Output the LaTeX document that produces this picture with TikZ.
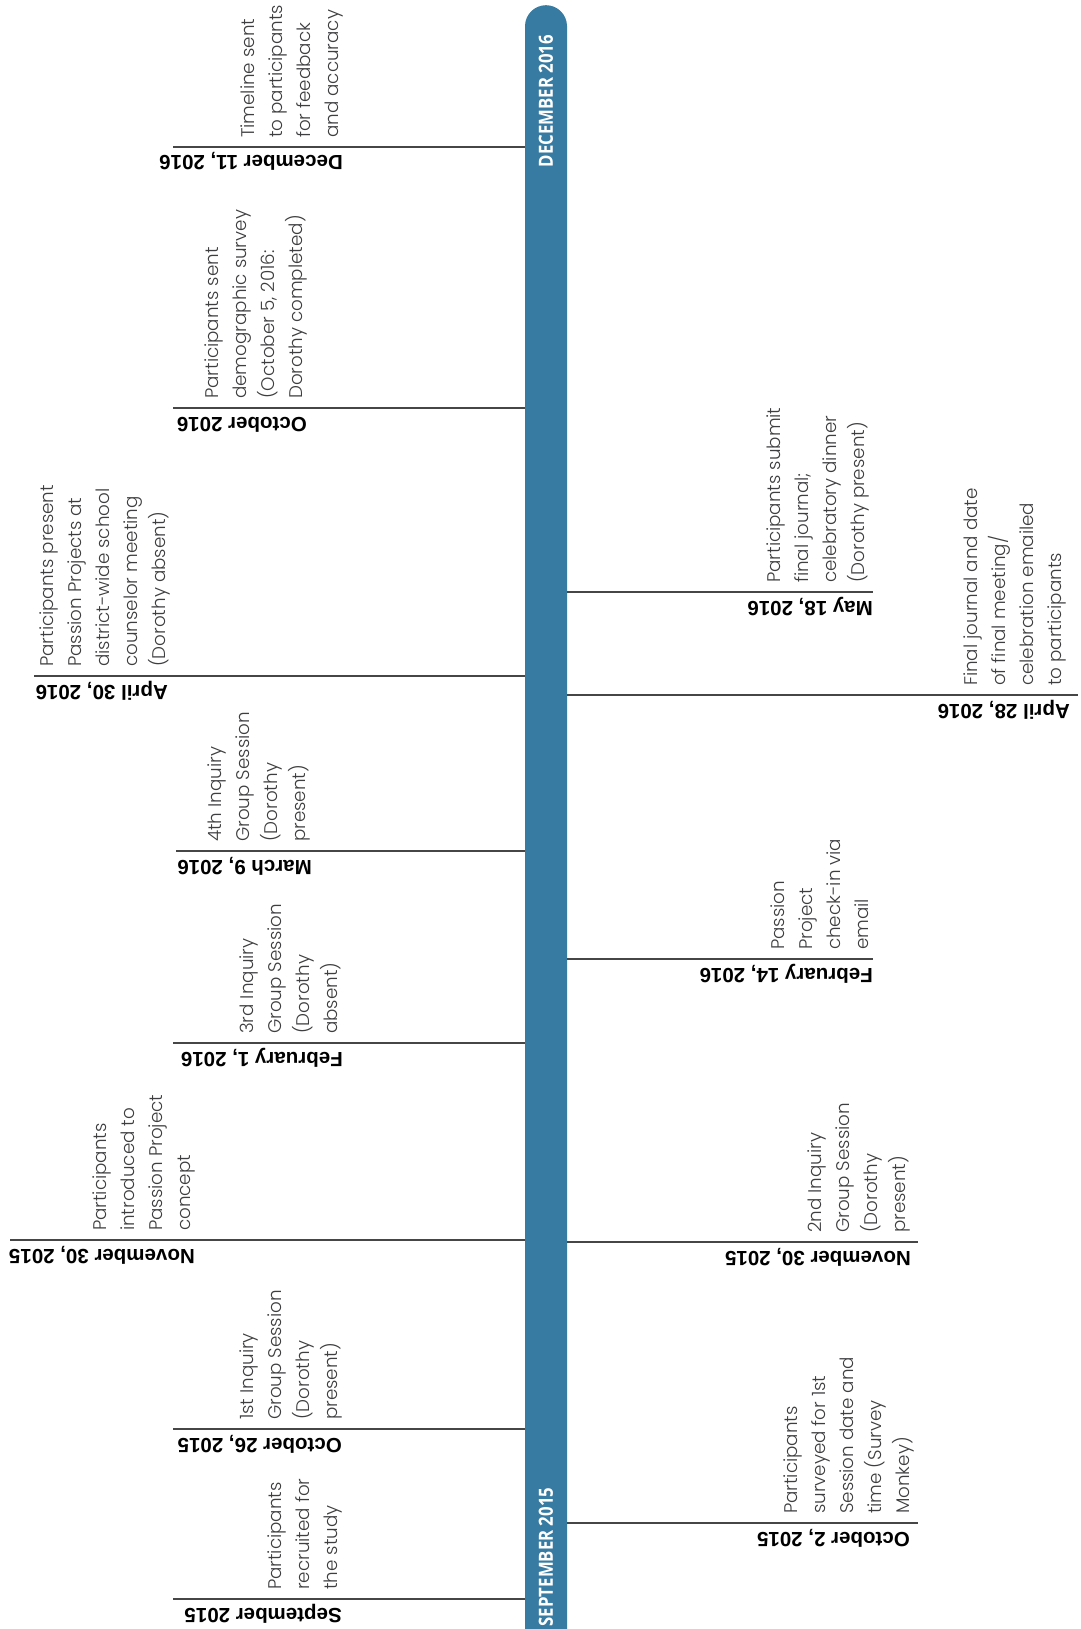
\documentclass[tikz,border=0pt]{standalone}
\usepackage{fontspec}
\setmainfont{Liberation Sans}
\IfFontExistsTF{Poppins Light}
  {\newfontfamily\bodyfont{Poppins Light}}
  {\newfontfamily\bodyfont{Poppins}}
\newfontfamily\barfont{Open Sans}[FakeStretch=0.86]

\definecolor{barblue}{RGB}{55,123,163}
\definecolor{bodygray}{RGB}{62,62,64}
\definecolor{rulegray}{RGB}{70,70,70}

\tikzset{
  timebar/.style={fill=barblue, draw=none, rounded corners=21pt,
    minimum width=42pt, minimum height=1800pt, anchor=north, inner sep=0pt},
  barlabel/.style={rotate=90, text=white, inner sep=0pt,
    font=\barfont\bfseries\fontsize{19.5}{20}\selectfont},
  tick/.style={draw=rulegray, line width=1.4pt},
  datelabel/.style={rotate=180, anchor=base west, inner sep=0pt,
    font=\bfseries\fontsize{20.5}{22}\selectfont},
  eventnote/.style={rotate=90, anchor=south west, inner sep=0pt, align=left,
    text=bodygray, font=\bodyfont\fontsize{18.3}{28}\selectfont},
}

\begin{document}
\begin{tikzpicture}[x=1pt,y=-1pt]
\fill[white] (0,0) rectangle (1080,1629);
\useasboundingbox (0,0) rectangle (1080,1629);

% the vertical time bar
\node[timebar] (bar) at (546,5) {};
\node[barlabel] (barend) at (546,101) {DECEMBER 2016};
\node[barlabel] (barstart) at (546,1557) {SEPTEMBER 2015};

% ---- events on the left of the bar ----
\coordinate (dec11) at (173,147);
\draw[tick] (dec11) -- (dec11 -| bar.west);
\node[datelabel] (dec11date) at (343,156) {December 11, 2016};
\node[eventnote] (dec11note) at (343,138) {Timeline sent\\to participants\\for feedback\\and accuracy};

\coordinate (oct16) at (173,408);
\draw[tick] (oct16) -- (oct16 -| bar.west);
\node[datelabel] (oct16date) at (307,417) {October 2016};
\node[eventnote] (oct16note) at (307,399) {Participants sent\\demographic survey\\(October 5, 2016:\\Dorothy completed)};

\coordinate (apr30) at (34,676);
\draw[tick] (apr30) -- (apr30 -| bar.west);
\node[datelabel] (apr30date) at (168,685) {April 30, 2016};
\node[eventnote] (apr30note) at (170,667) {Participants present\\Passion Projects at\\district-wide school\\counselor meeting\\(Dorothy absent)};

\coordinate (mar9) at (176,851);
\draw[tick] (mar9) -- (mar9 -| bar.west);
\node[datelabel] (mar9date) at (312,860) {March 9, 2016};
\node[eventnote] (mar9note) at (310,842) {4th Inquiry\\Group Session\\(Dorothy\\present)};

\coordinate (feb1) at (173,1043);
\draw[tick] (feb1) -- (feb1 -| bar.west);
\node[datelabel] (feb1date) at (343,1052) {February 1, 2016};
\node[eventnote] (feb1note) at (341,1034) {3rd Inquiry\\Group Session\\(Dorothy\\absent)};

\coordinate (nov30a) at (10,1240);
\draw[tick] (nov30a) -- (nov30a -| bar.west);
\node[datelabel] (nov30adate) at (195,1249) {November 30, 2015};
\node[eventnote] (nov30anote) at (195,1231) {Participants\\introduced to\\Passion Project\\concept};

\coordinate (oct26) at (173,1429);
\draw[tick] (oct26) -- (oct26 -| bar.west);
\node[datelabel] (oct26date) at (342,1438) {October 26, 2015};
\node[eventnote] (oct26note) at (342,1420) {1st Inquiry\\Group Session\\(Dorothy\\present)};

\coordinate (sep15) at (173,1599);
\draw[tick] (sep15) -- (sep15 -| bar.west);
\node[datelabel] (sep15date) at (342,1608) {September 2015};
\node[eventnote] (sep15note) at (342,1590) {Participants\\recruited for\\the study};

% ---- events on the right of the bar ----
\coordinate (may18) at (873,592);
\draw[tick] (may18 -| bar.east) -- (may18);
\node[datelabel] (may18date) at (873,601) {May 18, 2016};
\node[eventnote] (may18note) at (869,583) {Participants submit\\final journal;\\celebratory dinner\\(Dorothy present)};

\coordinate (apr28) at (1078,695);
\draw[tick] (apr28 -| bar.east) -- (apr28);
\node[datelabel] (apr28date) at (1070,704) {April 28, 2016};
\node[eventnote] (apr28note) at (1066,686) {Final journal and date\\of final meeting/\\celebration emailed\\to participants};

\coordinate (feb14) at (873,959);
\draw[tick] (feb14 -| bar.east) -- (feb14);
\node[datelabel] (feb14date) at (873,968) {February 14, 2016};
\node[eventnote] (feb14note) at (869,950) {Passion\\Project\\check-in via\\email};

\coordinate (nov30b) at (918,1242);
\draw[tick] (nov30b -| bar.east) -- (nov30b);
\node[datelabel] (nov30bdate) at (911,1251) {November 30, 2015};
\node[eventnote] (nov30bnote) at (910,1233) {2nd Inquiry\\Group Session\\(Dorothy\\present)};

\coordinate (oct2) at (918,1523);
\draw[tick] (oct2 -| bar.east) -- (oct2);
\node[datelabel] (oct2date) at (910,1532) {October 2, 2015};
\node[eventnote] (oct2note) at (914,1514) {Participants\\surveyed for 1st\\Session date and\\time (Survey\\Monkey)};
\end{tikzpicture}
\end{document}
